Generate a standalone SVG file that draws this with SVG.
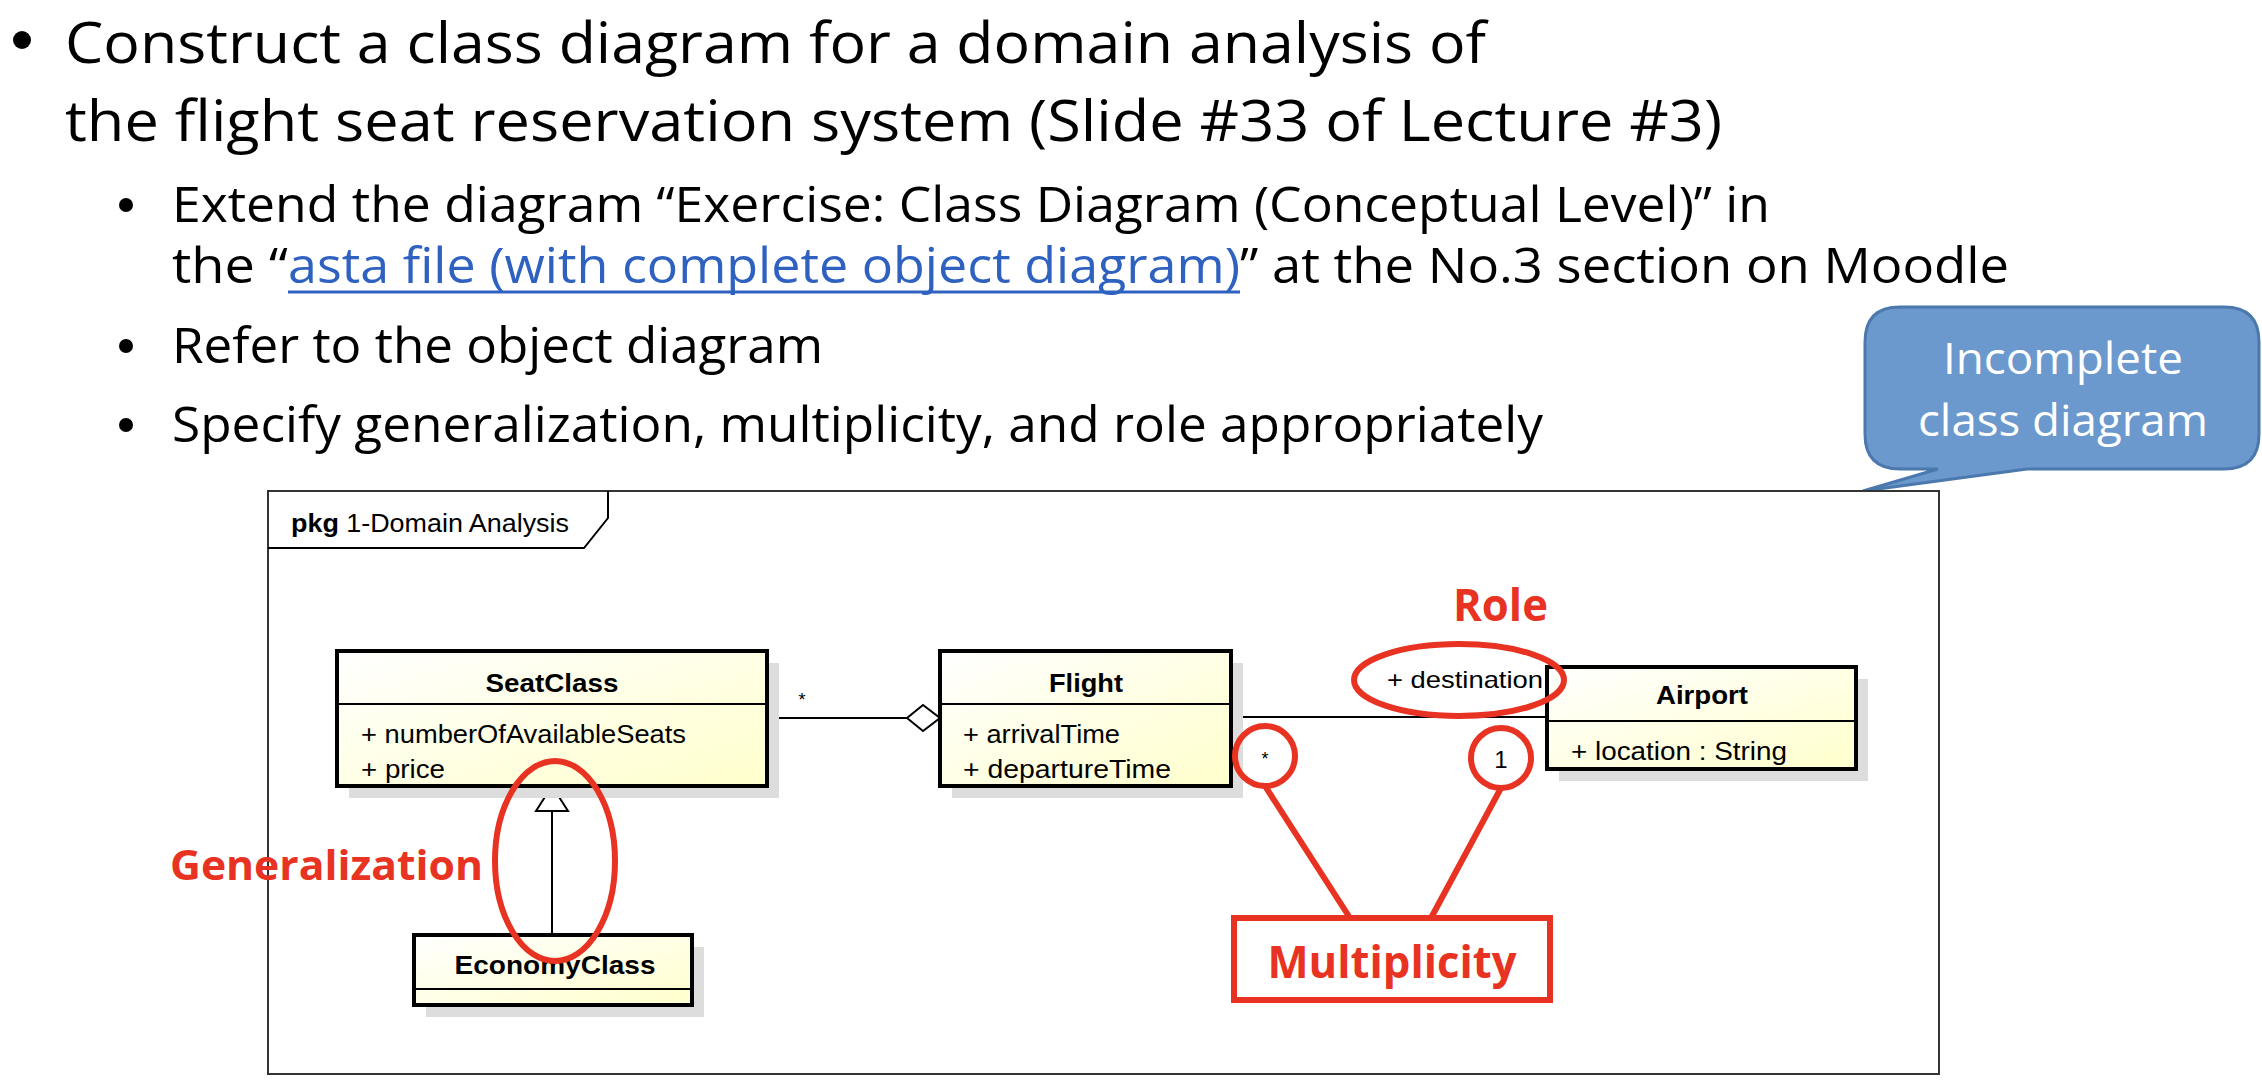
<svg xmlns="http://www.w3.org/2000/svg" width="2262" height="1080" viewBox="0 0 2262 1080">
<style>
.h{font-family:"Open Sans","Liberation Sans",sans-serif;fill:#000}
.u{font-family:"Liberation Sans",Arial,sans-serif;fill:#000}
.b{font-weight:bold}
.box{fill:url(#g);stroke:#000;stroke-width:4}
.sh{fill:#ddd}
.ln{stroke:#000;stroke-width:2;fill:none}
.red{fill:none;stroke:#e83323;stroke-width:6}
.rt{font-family:"Open Sans","Liberation Sans",sans-serif;font-weight:bold;fill:#e83323}
</style>
<defs>
<linearGradient id="g" x1="0" y1="0" x2="1" y2="1"><stop offset="0" stop-color="#ffffff"/><stop offset="0.5" stop-color="#ffffe6"/><stop offset="1" stop-color="#ffffcc"/></linearGradient>
</defs>
<rect width="2262" height="1080" fill="#fff"/>
<g id="header">
<circle cx="22" cy="40" r="9"/>
<text class="h" x="65" y="63" font-size="57" textLength="1421" lengthAdjust="spacingAndGlyphs">Construct a class diagram for a domain analysis of</text>
<text class="h" x="65" y="141" font-size="57" textLength="1657" lengthAdjust="spacingAndGlyphs">the flight seat reservation system (Slide #33 of Lecture #3)</text>
<circle cx="126" cy="205" r="7"/>
<text class="h" x="172" y="222" font-size="49" textLength="1598" lengthAdjust="spacingAndGlyphs">Extend the diagram “Exercise: Class Diagram (Conceptual Level)” in</text>
<text class="h" x="172" y="283" font-size="49" textLength="116" lengthAdjust="spacingAndGlyphs">the “</text>
<text class="h" x="288" y="283" font-size="49" style="fill:#2f62c0" textLength="952" lengthAdjust="spacingAndGlyphs">asta file (with complete object diagram)</text>
<line x1="288" y1="292" x2="1240" y2="292" stroke="#2f62c0" stroke-width="3"/>
<text class="h" x="1240" y="283" font-size="49" textLength="769" lengthAdjust="spacingAndGlyphs">” at the No.3 section on Moodle</text>
<circle cx="126" cy="346" r="7"/>
<text class="h" x="172" y="363" font-size="49" textLength="651" lengthAdjust="spacingAndGlyphs">Refer to the object diagram</text>
<circle cx="126" cy="425" r="7"/>
<text class="h" x="172" y="442" font-size="49" textLength="1371" lengthAdjust="spacingAndGlyphs">Specify generalization, multiplicity, and role appropriately</text>
</g>
<g id="callout">
<path d="M1900,307 H2224 Q2259,307 2259,342 V434 Q2259,469 2224,469 H2027 L1863,491 L1938,469 H1900 Q1865,469 1865,434 V342 Q1865,307 1900,307 Z" fill="#6b99cd" stroke="#4b78ad" stroke-width="3"/>
<text class="h" x="2063" y="374" font-size="44" text-anchor="middle" style="fill:#fff" textLength="240" lengthAdjust="spacingAndGlyphs">Incomplete</text>
<text class="h" x="2063" y="436" font-size="44" text-anchor="middle" style="fill:#fff" textLength="290" lengthAdjust="spacingAndGlyphs">class diagram</text>
</g>
<g id="frame">
<rect x="268" y="491" width="1671" height="583" fill="#fff" stroke="#333" stroke-width="2"/>
<path d="M268,548 H584 L608,518 V491" class="ln"/>
<text class="u" x="291" y="532" font-size="25" textLength="278" lengthAdjust="spacingAndGlyphs"><tspan class="b">pkg</tspan> 1-Domain Analysis</text>
</g>
<g id="connectors">
<line class="ln" x1="767" y1="718" x2="907" y2="718"/>
<path d="M907,718 L923,705 L940,718 L923,731 Z" fill="#fff" stroke="#000" stroke-width="2"/>
<text class="u" x="802" y="706" font-size="18" text-anchor="middle">*</text>
<line class="ln" x1="1231" y1="717" x2="1547" y2="717"/>
<line class="ln" x1="552" y1="810" x2="552" y2="935"/>
<path d="M552,786 L536,811 L568,811 Z" fill="#fff" stroke="#000" stroke-width="2"/>
<text class="u" x="1265" y="765" font-size="18" text-anchor="middle">*</text>
<text class="u" x="1501" y="768" font-size="24" text-anchor="middle">1</text>
<text class="u" x="1387" y="688" font-size="24" textLength="156" lengthAdjust="spacingAndGlyphs">+ destination</text>
</g>
<g id="SeatClass">
<rect class="sh" x="349" y="663" width="430" height="135"/>
<rect class="box" x="337" y="651" width="430" height="135"/>
<line class="ln" x1="337" y1="704" x2="767" y2="704"/>
<text class="u b" x="552" y="692" font-size="25" text-anchor="middle" textLength="133" lengthAdjust="spacingAndGlyphs">SeatClass</text>
<text class="u" x="361" y="743" font-size="25" textLength="325" lengthAdjust="spacingAndGlyphs">+ numberOfAvailableSeats</text>
<text class="u" x="361" y="778" font-size="25" textLength="84" lengthAdjust="spacingAndGlyphs">+ price</text>
</g>
<g id="Flight">
<rect class="sh" x="952" y="663" width="291" height="135"/>
<rect class="box" x="940" y="651" width="291" height="135"/>
<line class="ln" x1="940" y1="704" x2="1231" y2="704"/>
<text class="u b" x="1086" y="692" font-size="25" text-anchor="middle" textLength="74" lengthAdjust="spacingAndGlyphs">Flight</text>
<text class="u" x="963" y="743" font-size="25" textLength="157" lengthAdjust="spacingAndGlyphs">+ arrivalTime</text>
<text class="u" x="963" y="778" font-size="25" textLength="208" lengthAdjust="spacingAndGlyphs">+ departureTime</text>
</g>
<g id="Airport">
<rect class="sh" x="1559" y="679" width="309" height="102"/>
<rect class="box" x="1547" y="667" width="309" height="102"/>
<line class="ln" x1="1547" y1="721" x2="1856" y2="721"/>
<text class="u b" x="1702" y="704" font-size="25" text-anchor="middle" textLength="92" lengthAdjust="spacingAndGlyphs">Airport</text>
<text class="u" x="1571" y="760" font-size="25" textLength="216" lengthAdjust="spacingAndGlyphs">+ location : String</text>
</g>
<g id="EconomyClass">
<rect class="sh" x="426" y="947" width="278" height="70"/>
<rect class="box" x="414" y="935" width="278" height="70"/>
<line class="ln" x1="414" y1="989" x2="692" y2="989"/>
<text class="u b" x="555" y="974" font-size="25" text-anchor="middle" textLength="201" lengthAdjust="spacingAndGlyphs">EconomyClass</text>
</g>
<g id="annotations">
<ellipse class="red" cx="555" cy="861" rx="60" ry="100"/>
<text class="rt" x="170" y="880" font-size="42" textLength="313" lengthAdjust="spacingAndGlyphs">Generalization</text>
<ellipse class="red" cx="1459" cy="680" rx="105" ry="36"/>
<text class="rt" x="1453" y="621" font-size="44" textLength="95" lengthAdjust="spacingAndGlyphs">Role</text>
<circle class="red" cx="1265" cy="756" r="30"/>
<circle class="red" cx="1501" cy="758" r="30"/>
<line class="red" x1="1265" y1="786" x2="1350" y2="918"/>
<line class="red" x1="1501" y1="788" x2="1431" y2="918"/>
<rect class="red" x="1234" y="918" width="316" height="82"/>
<text class="rt" x="1392" y="978" font-size="44" text-anchor="middle" textLength="249" lengthAdjust="spacingAndGlyphs">Multiplicity</text>
</g>
</svg>
